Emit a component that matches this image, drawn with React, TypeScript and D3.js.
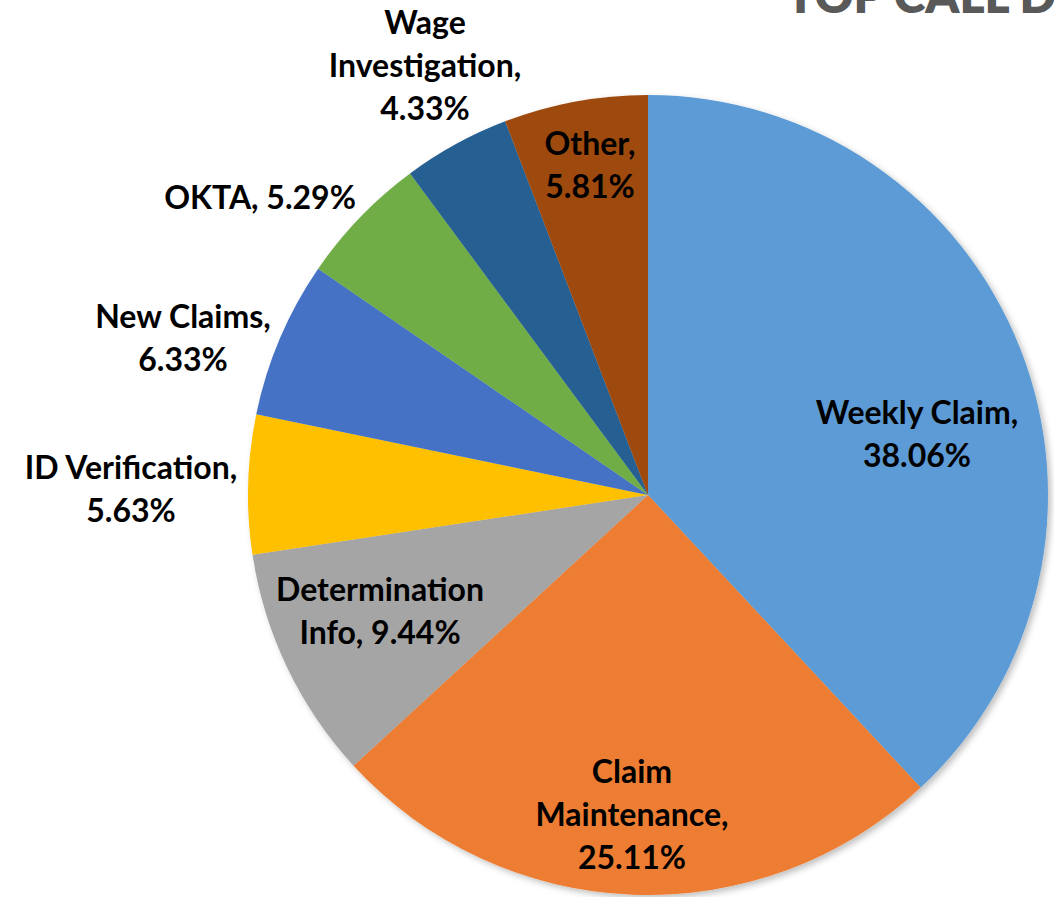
import React, { useMemo } from "react";
import * as d3 from "d3";

const categories = [
  "Weekly Claim",
  "Claim Maintenance",
  "Determination Info",
  "ID Verification",
  "New Claims",
  "OKTA",
  "Wage Investigation",
  "Other",
];
const values = [38.06, 25.11, 9.44, 5.63, 6.33, 5.29, 4.33, 5.81];
const colors = ["#5B9BD5", "#ED7D31", "#A5A5A5", "#FFC000", "#4472C4", "#70AD47", "#255E91", "#9E480E"];
const labelLines = [
  ["Weekly Claim,", "38.06%"],
  ["Claim", "Maintenance,", "25.11%"],
  ["Determination", "Info, 9.44%"],
  ["ID Verification,", "5.63%"],
  ["New Claims,", "6.33%"],
  ["OKTA, 5.29%"],
  ["Wage", "Investigation,", "4.33%"],
  ["Other,", "5.81%"],
];
// label block centers relative to pie center (layout)
const labelOffsets: [number, number][] = [
  [269, -62],
  [-16, 318],
  [-268, 115],
  [-517, -7],
  [-465, -158],
  [-388, -299],
  [-223, -431],
  [-58, -331],
];

const W = 1054;
const H = 897;
const cx = 648;
const cy = 495;
const R = 400;
const FONT = 32;
const LINE = 43;

export default function App() {
  const arcs = useMemo(() => {
    const pie = d3.pie<number>().sort(null).value((d) => d)(values);
    return pie;
  }, []);
  const arcGen = d3.arc<d3.PieArcDatum<number>>().innerRadius(0).outerRadius(R);

  return (
    <svg
      width={W}
      height={H}
      style={{ position: "absolute", left: 0, top: 0, background: "#fff" }}
      fontFamily="Lato, 'Open Sans', sans-serif"
    >
      <defs>
        <filter id="sh" x="-10%" y="-10%" width="120%" height="120%">
          <feDropShadow dx="3" dy="3" stdDeviation="3" floodColor="#000" floodOpacity="0.25" />
        </filter>
      </defs>
      <text x={786} y={13} fontSize={48} fontWeight={800} fill="#595959" fontFamily="Lato, sans-serif">
        TOP CALL DRIVERS
      </text>
      <g transform={`translate(${cx},${cy})`}>
        <g filter="url(#sh)">
          {arcs.map((a, i) => (
            <path key={categories[i]} d={arcGen(a) || ""} fill={colors[i]} />
          ))}
        </g>
        {arcs.map((a, i) => {
          const lines = labelLines[i];
          const [ox, oy] = labelOffsets[i];
          const startY = oy - ((lines.length - 1) * LINE) / 2;
          return (
            <text
              key={"l" + i}
              textAnchor="middle"
              fontSize={FONT}
              fontWeight={700}
              fill="#000"
            >
              {lines.map((ln, j) => (
                <tspan key={j} x={ox} y={startY + j * LINE} dominantBaseline="central">
                  {ln}
                </tspan>
              ))}
            </text>
          );
        })}
      </g>
    </svg>
  );
}
